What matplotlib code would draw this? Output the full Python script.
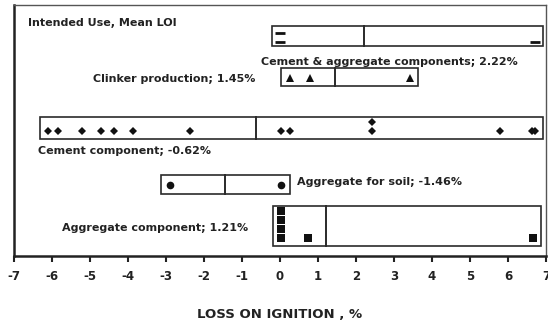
"""Mean loss on ignition by intended use, one box per use."""

import matplotlib.pyplot as plt
from matplotlib.patches import Rectangle

# data
categories = [
    "Cement & aggregate components",
    "Clinker production",
    "Cement component",
    "Aggregate for soil",
    "Aggregate component",
]
means = [2.22, 1.45, -0.62, -1.46, 1.21]
loi_cement_aggregate = [0.0, 0.0, 6.7]
loi_clinker = [0.25, 0.78, 3.42]
loi_cement = [-6.1, -5.83, -5.2, -4.7, -4.38, -3.88, -2.36,
              0.03, 0.27, 2.43, 2.43, 5.8, 6.64, 6.7]
loi_soil = [-2.9, 0.03]
loi_aggregate = [0.03, 0.03, 0.03, 0.03, 0.74, 6.66]
x_ticks = list(range(-7, 8))

series = [loi_cement_aggregate, loi_clinker, loi_cement, loi_soil, loi_aggregate]
markers = ["_", "^", "D", "o", "s"]
marker_sizes = [6.5, 5.5, 4.4, 5.5, 5.2]

# layout (y measured downwards, in pixels of the 321 px figure)
row_base = [41.5, 78, 131, 185, 237.7]
box_top = [26, 68.3, 116.7, 175, 206]
box_bottom = [45.7, 85.7, 139.3, 194, 246]
stack_step = 9.0
pad = 0.22
label_pos = [(2.87, 61.7, "center"), (-0.66, 79.3, "right"), (-6.37, 150.7, "left"),
             (0.45, 182.3, "left"), (-0.83, 228.3, "right")]

TXT = "#222222"
EDGE = "#2a2a2a"

fig = plt.figure(figsize=(5.48, 3.21), dpi=100)
ax = fig.add_axes([14 / 548, (321 - 256) / 321, 532 / 548, 251 / 321])
ax.set_xlim(-7, 7)
ax.set_ylim(256, 5)

for i, vals in enumerate(series):
    lo, hi = min(vals) - pad, max(vals) + pad
    ax.add_patch(Rectangle((lo, box_top[i]), hi - lo, box_bottom[i] - box_top[i],
                           fill=False, edgecolor=EDGE, linewidth=1.2, zorder=2))
    ax.plot([means[i], means[i]], [box_top[i], box_bottom[i]], color=EDGE,
            linewidth=1.4, zorder=2)
    seen = {}
    xs, ys = [], []
    for v in vals:
        k = seen.get(v, 0)
        seen[v] = k + 1
        xs.append(v)
        ys.append(row_base[i] - k * stack_step)
    mew = 2 if markers[i] == "_" else 0
    ax.plot(xs, ys, linestyle="none", marker=markers[i], markersize=marker_sizes[i],
            color="#111111", markeredgewidth=mew, zorder=3)
    lx, ly, ha = label_pos[i]
    ax.text(lx, ly, f"{categories[i]}; {means[i]:.2f}%", ha=ha, va="center",
            fontsize=8, fontweight="bold", color=TXT)

ax.text(-6.63, 22.7, "Intended Use, Mean LOI", ha="left", va="center",
        fontsize=8, fontweight="bold", color=TXT)

ax.set_yticks([])
ax.set_xticks(x_ticks)
ax.set_xticklabels([str(t) for t in x_ticks], fontsize=8.5, fontweight="bold", color=TXT)
ax.tick_params(axis="x", direction="out", length=4, width=1.5, pad=6, color="#222222")
ax.set_xlabel("LOSS ON IGNITION , %", fontsize=9.5, fontweight="bold", color=TXT, labelpad=18)

for side in ["left", "bottom"]:
    ax.spines[side].set_linewidth(1.8)
    ax.spines[side].set_color("#222222")
for side in ["top", "right"]:
    ax.spines[side].set_linewidth(1.0)
    ax.spines[side].set_color("#555555")

fig.savefig("out.png", dpi=100)
